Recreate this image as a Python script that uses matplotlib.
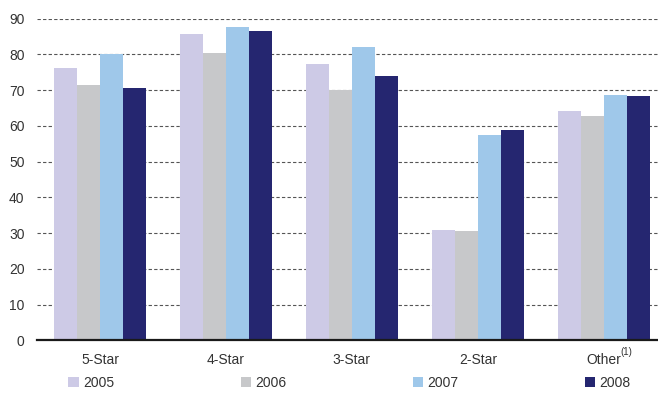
import matplotlib
matplotlib.use("Agg")
import matplotlib.pyplot as plt
import numpy as np

plt.rcParams['font.family'] = ['Liberation Sans Narrow', 'Liberation Sans', 'DejaVu Sans']

categories = ['5-Star', '4-Star', '3-Star', '2-Star', 'Other']
years = ['2005', '2006', '2007', '2008']
v2005 = [76.3, 85.8, 77.4, 30.9, 64.2]
v2006 = [71.5, 80.4, 70.1, 30.6, 62.8]
v2007 = [80.2, 87.7, 82.1, 57.5, 68.7]
v2008 = [70.7, 86.6, 74.0, 58.9, 68.2]
colors = ['#cdcae6', '#c7c8ca', '#9fc8ea', '#252670']


def plot_chart():
    fig = plt.figure(figsize=(6.58, 3.94), dpi=100)
    ax = fig.add_axes([0.0562, 0.1363, 0.9438, 0.8167])

    x = np.arange(len(categories))
    w = 0.183
    series = [v2005, v2006, v2007, v2008]
    handles = []
    for i, vals in enumerate(series):
        b = ax.bar(x + (i - 1.5) * w, vals, width=w, color=colors[i],
                   label=years[i], zorder=3)
        handles.append(b)

    ax.set_ylim(0, 90)
    ax.set_xlim(-0.5, 4.43)
    ax.set_yticks(range(0, 91, 10))
    ax.yaxis.grid(True, linestyle=(0, (3, 2)), color='#555555', linewidth=0.8, zorder=0)
    ax.set_axisbelow(True)

    for s in ['top', 'right', 'left']:
        ax.spines[s].set_visible(False)
    ax.spines['bottom'].set_linewidth(1.6)
    ax.spines['bottom'].set_color('#1a1a1a')
    ax.spines['bottom'].set_zorder(4)

    ax.set_xticks(x)
    ax.set_xticklabels(categories)
    ax.tick_params(axis='x', length=0, pad=9, labelsize=10, labelcolor='#333333')
    ax.tick_params(axis='y', length=0, pad=9, labelsize=10, labelcolor='#333333')

    # footnote marker on "Other"
    ax.text(x[-1] + 0.135, -3.2, '(1)', fontsize=7, color='#333333',
            ha='left', va='center')

    fig.legend(handles=handles, labels=years, loc='center left',
               bbox_to_anchor=(0.085, 0.029), ncol=4, frameon=False,
               fontsize=10, handlelength=0.75, handleheight=0.75,
               handletextpad=0.3, columnspacing=9.1, labelcolor='#333333')

    fig.savefig('out.png', dpi=100)


if __name__ == "__main__":
    plot_chart()
